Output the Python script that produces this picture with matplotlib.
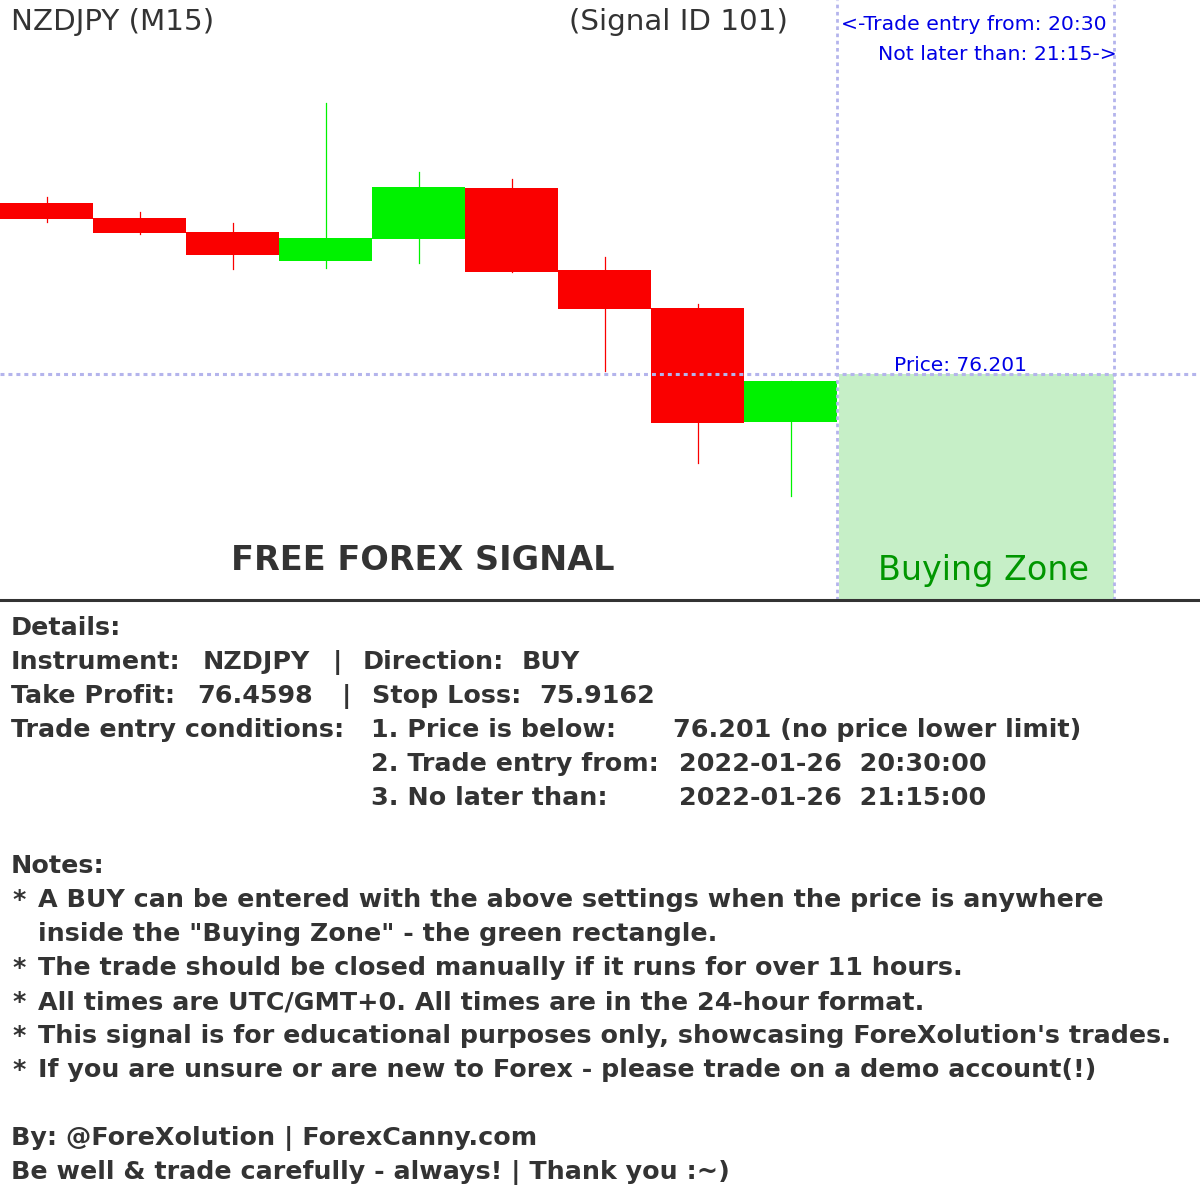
import matplotlib.pyplot as plt
from matplotlib.lines import Line2D
from matplotlib.patches import Rectangle

# candle data (NZDJPY M15), oldest first
opens = [76.372, 76.357, 76.343, 76.314, 76.336, 76.387, 76.305, 76.267, 76.153]
highs = [76.378, 76.363, 76.352, 76.472, 76.403, 76.396, 76.318, 76.271, 76.194]
lows = [76.353, 76.341, 76.306, 76.307, 76.312, 76.303, 76.204, 76.112, 76.079]
closes = [76.356, 76.342, 76.320, 76.337, 76.388, 76.303, 76.266, 76.152, 76.194]

entry_price = 76.201
entry_bar = 9      # 20:30
last_bar = 12      # 21:15
n_slots = 1200 / 93.0

# text pieces: (x pixel, text) per line
instrument_line = [(11, "Instrument:"), (203, "NZDJPY"), (337.5, "|"),
                   (363, "Direction:"), (522, "BUY")]
tp_sl_line = [(11, "Take Profit:"), (197, "76.4598"), (346, "|"),
              (372, "Stop Loss:"), (539, "75.9162")]
conditions = [
    ("Trade entry conditions:", "1. Price is below:", "76.201 (no price lower limit)"),
    ("", "2. Trade entry from:", "2022-01-26  20:30:00"),
    ("", "3. No later than:", "2022-01-26  21:15:00"),
]
notes = [
    ("*", "A BUY can be entered with the above settings when the price is anywhere"),
    ("", "inside the \"Buying Zone\" - the green rectangle."),
    ("*", "The trade should be closed manually if it runs for over 11 hours."),
    ("*", "All times are UTC/GMT+0. All times are in the 24-hour format."),
    ("*", "This signal is for educational purposes only, showcasing ForeXolution's trades."),
    ("*", "If you are unsure or are new to Forex - please trade on a demo account(!)"),
]
footer = [
    "By: @ForeXolution | ForexCanny.com",
    "Be well & trade carefully - always! | Thank you :~)",
]

GRAY = "#333333"
BLUE = "#0000e6"
RED = "#fa0000"
GREEN = "#00f200"
DOTS = "#b4b4ec"

fig = plt.figure(figsize=(12, 12), dpi=100)
fig.patch.set_facecolor("white")


def fx(x):
    return x / 1200.0


def fy(y):
    return 1 - y / 1200.0


ax = fig.add_axes([0, 0.5, 1, 0.5])
ax.set_xlim(0, n_slots)
ax.set_ylim(75.975, 76.575)
ax.axis("off")

for i, (o, h, l, c) in enumerate(zip(opens, highs, lows, closes)):
    col = GREEN if c >= o else RED
    ax.plot([i + 0.5, i + 0.5], [l, h], color=col, lw=0.9, zorder=2)
    ax.add_patch(Rectangle((i + 0.005, min(o, c)), 0.99, abs(c - o),
                           facecolor=col, edgecolor="none", zorder=3))

# buying zone
ax.add_patch(Rectangle((entry_bar + 0.02, 75.975), last_bar - entry_bar - 0.04,
                       entry_price - 75.975, facecolor="#c6efc7",
                       edgecolor="none", zorder=1))
ax.axhline(entry_price, color=DOTS, lw=2.2, ls=(0, (1.3, 1.3)), zorder=5)
ax.axvline(entry_bar, color=DOTS, lw=2.0, ls=(0, (1.3, 1.3)), zorder=5)
ax.axvline(last_bar - 0.02, color=DOTS, lw=2.0, ls=(0, (1.3, 1.3)), zorder=5)

# chart labels
fig.text(fx(11), fy(30), "NZDJPY (M15)", fontsize=21.2, color=GRAY, va="baseline")
fig.text(fx(788), fy(30), "(Signal ID 101)", fontsize=21.2, color=GRAY,
         va="baseline", ha="right")
fig.text(fx(841), fy(30), "<-Trade entry from: 20:30", fontsize=14.7, color=BLUE,
         va="baseline")
fig.text(fx(1117), fy(60), "Not later than: 21:15->", fontsize=14.7, color=BLUE,
         va="baseline", ha="right")
fig.text(fx(894), fy(371), "Price: 76.201", fontsize=14.5, color=BLUE, va="baseline")
fig.text(fx(423), fy(570), "FREE FOREX SIGNAL", fontsize=24.1, color=GRAY,
         weight="bold", va="baseline", ha="center")
fig.text(fx(983), fy(580), "Buying Zone", fontsize=24, color="#009600",
         va="baseline", ha="center")

fig.add_artist(Line2D([0, 1], [fy(600), fy(600)], color=GRAY, lw=2.2))

# text block below the chart
fs = 18.3
kw = dict(fontsize=fs, color=GRAY, weight="bold", va="baseline")
base = 635
step = 34
y = base
fig.text(fx(11), fy(y), "Details:", **kw)
y += step
for pieces in (instrument_line, tp_sl_line):
    for x, txt in pieces:
        fig.text(fx(x), fy(y), txt, ha="center" if txt == "|" else "left", **kw)
    y += step
for a, b, c in conditions:
    if a:
        fig.text(fx(11), fy(y), a, **kw)
    fig.text(fx(371), fy(y), b, **kw)
    fig.text(fx(673 if c.startswith("76") else 679), fy(y), c, **kw)
    y += step
y += step
fig.text(fx(11), fy(y), "Notes:", **kw)
y += step
for star, txt in notes:
    if star:
        fig.text(fx(12), fy(y), star, **kw)
    fig.text(fx(38), fy(y), txt, **kw)
    y += step
y += step
for line in footer:
    fig.text(fx(11), fy(y), line, **kw)
    y += step

fig.savefig("out.png", dpi=100)
